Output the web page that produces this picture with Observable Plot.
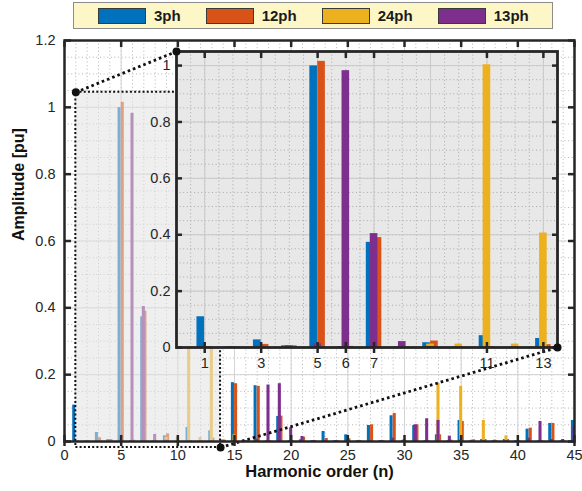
<!DOCTYPE html>
<html>
<head>
<meta charset="utf-8">
<script src="https://cdn.jsdelivr.net/npm/d3@7"></script>
<script src="https://cdn.jsdelivr.net/npm/@observablehq/plot@0.6"></script>
<style>
html, body { margin: 0; padding: 0; background: #fff; }
#wrap { position: relative; width: 582px; height: 491px; overflow: hidden; font-family: "Liberation Sans", Arial, Helvetica, sans-serif; }
#legend { position: absolute; left: 73px; top: 2px; width: 480px; height: 27px; box-sizing: border-box;
  background: #fdf7c8; border: 1px solid #8c8c8c; display: flex; align-items: center; padding-left: 24px; gap: 25px; }
.item { display: flex; align-items: center; }
.sw { width: 48px; height: 16px; box-sizing: border-box; border: 1px solid #3a3a3a; }
.lab { margin-left: 8px; font-weight: bold; font-size: 15px; color: #1a1a1a; }
</style>
</head>
<body>
<div id="wrap"><div id="legend"></div></div>
<script>
// ---------------- data ----------------
const harmonicOrder = [1,2,3,4,5,6,7,8,9,10,11,12,13,14,15,16,17,18,19,20,21,22,23,24,25,26,27,28,29,30,31,32,33,34,35,36,37,38,39,40,41,42,43,44,45];
const amp3ph  = [0.109,0.002,0.027,0.006,0.999,0.003,0.373,0.002,0.017,0.001,0.042,0.001,0.032,
                 0.002,0.176,0.002,0.167,0.002,0.075,0.002,0.005,0.002,0.030,0.002,0.020,0.002,0.048,0.002,0.077,0.002,
                 0.048,0.002,0.020,0.002,0.063,0.002,0.006,0.002,0.006,0.002,0.037,0.002,0.054,0.002,0.063];
const amp12ph = [0.003,0.002,0.011,0.006,1.015,0.004,0.390,0.002,0.023,0.001,0.003,0.001,0.010,
                 0.004,0.173,0.002,0.165,0.002,0.076,0.002,0.013,0.002,0.009,0.002,0.008,0.002,0.050,0.002,0.084,0.002,
                 0.050,0.002,0.020,0.004,0.060,0.005,0.006,0.002,0.006,0.002,0.040,0.002,0.054,0.002,0.002];
const amp24ph = [0,0,0,0,0,0,0,0,0.012,0.012,1.003,0.012,0.406,
                 0.006,0.020,0,0,0,0,0,0,0,0,0,0,0,0,0,0,0,
                 0,0,0.174,0,0.165,0.005,0.063,0.005,0.017,0,0,0,0,0,0];
const amp13ph = [0.001,0.002,0.002,0.006,0.013,0.982,0.404,0.021,0.004,0.001,0.001,0.001,0.001,
                 0.002,0.002,0.002,0.007,0.169,0.173,0.041,0.015,0.002,0.002,0.002,0.002,0.002,0.002,0.002,0.010,0.005,
                 0.050,0.068,0.063,0.016,0.004,0.002,0.002,0.002,0.002,0.002,0.010,0.060,0.006,0.006,0.045];
const seriesNames  = ["3ph", "12ph", "24ph", "13ph"];
const seriesColors = ["#0072BD", "#D95319", "#EDB120", "#7E2F8E"];
const mainXTicks  = [0,5,10,15,20,25,30,35,40,45];
const mainYTicks  = [0,0.2,0.4,0.6,0.8,1,1.2];
const insetXTicks = [1,3,5,6,7,11,13];
const insetYTicks = [0,0.2,0.4,0.6,0.8,1];
const zoomBoxX = [1, 13.77];
const zoomBoxY = [-0.018, 1.045];

// ---------------- layout ----------------
const FONT = '"Liberation Sans", Arial, Helvetica, sans-serif';
const INK = "#262626";
const M = {w: 582, h: 461, top: 10, right: 8, bottom: 50, left: 64, pageTop: 30};
const I = {w: 440, h: 340, top: 10, right: 19, bottom: 34, left: 40, pageLeft: 136, pageTop: 41};
const mainXDomain = [0, 45], mainYDomain = [0, 1.2];
const insetXDomain = [0, 13.5], insetYDomain = [0, 1.05];

const barOffset = {"3ph": -0.14, "12ph": 0.14, "24ph": 0, "13ph": 0};
const barWidth = 0.27;
const seriesValues = [amp3ph, amp12ph, amp24ph, amp13ph];
const bars = seriesNames.flatMap((s, i) => harmonicOrder.map((n, j) => ({n, series: s, v: seriesValues[i][j]})));
const insetBars = bars.filter(d => d.n <= 14);
const bx1 = d => d.n + barOffset[d.series] - barWidth / 2;
const bx2 = d => d.n + barOffset[d.series] + barWidth / 2;
const fmt = d => String(+d.toFixed(1));

// legend
const leg = document.getElementById("legend");
seriesNames.forEach((s, i) => {
  const it = document.createElement("div"); it.className = "item";
  const sw = document.createElement("div"); sw.className = "sw"; sw.style.background = seriesColors[i];
  const lb = document.createElement("span"); lb.className = "lab"; lb.textContent = s;
  it.appendChild(sw); it.appendChild(lb); leg.appendChild(it);
});

// main scales mirrored to map inset frame corners into main data coordinates
const xm = d3.scaleLinear(mainXDomain, [M.left, M.w - M.right]);
const ym = d3.scaleLinear(mainYDomain, [M.h - M.bottom, M.top]);
const insetFrame = {
  left: I.pageLeft + I.left, right: I.pageLeft + I.w - I.right,
  top: I.pageTop + I.top, bottom: I.pageTop + I.h - I.bottom
};
const connectors = [
  {x1: zoomBoxX[0], y1: zoomBoxY[1], x2: xm.invert(insetFrame.left), y2: ym.invert(insetFrame.top - M.pageTop)},
  {x1: zoomBoxX[1], y1: zoomBoxY[0], x2: xm.invert(insetFrame.right), y2: ym.invert(insetFrame.bottom - M.pageTop)}
];
const zoomRegion = [{x1: zoomBoxX[0], x2: zoomBoxX[1], y1: zoomBoxY[0], y2: zoomBoxY[1]}];
const zoomCorners = [{x: zoomBoxX[0], y: zoomBoxY[1]}, {x: zoomBoxX[1], y: zoomBoxY[0]}];

const tickOpts = {strokeWidth: 2.5, tickFormat: () => "", label: null, color: INK};

const main = Plot.plot({
  width: M.w, height: M.h, marginTop: M.top, marginRight: M.right, marginBottom: M.bottom, marginLeft: M.left,
  x: {domain: mainXDomain}, y: {domain: mainYDomain},
  color: {domain: seriesNames, range: seriesColors},
  style: {fontFamily: FONT, fontSize: "14.5px", background: "transparent", color: INK, overflow: "visible"},
  marks: [
    Plot.ruleX(d3.range(0, 45.01, 1), {stroke: "#b5b5b5", strokeDasharray: "1,2.6"}),
    Plot.ruleY(d3.range(0, 1.2001, 0.05), {stroke: "#b5b5b5", strokeDasharray: "1,2.6"}),
    Plot.ruleX(mainXTicks, {stroke: "#d4d4d4"}),
    Plot.ruleY(mainYTicks, {stroke: "#d4d4d4"}),
    Plot.rect(bars, {x1: bx1, x2: bx2, y1: () => 0, y2: "v", fill: "series", clip: true}),
    Plot.rect(zoomRegion, {x1: "x1", x2: "x2", y1: () => 0, y2: "y2", fill: "#e2e2e2", fillOpacity: 0.55}),
    Plot.rect(zoomRegion, {x1: "x1", x2: "x2", y1: "y1", y2: "y2", fill: "none", stroke: "#111", strokeWidth: 2, strokeDasharray: "2,2.2"}),
    Plot.link(connectors, {x1: "x1", y1: "y1", x2: "x2", y2: "y2", stroke: "#111", strokeWidth: 2.8, strokeDasharray: "2.6,3"}),
    Plot.frame({stroke: INK, strokeWidth: 2.5}),
    Plot.dot(zoomCorners, {x: "x", y: "y", r: 4, fill: "#111"}),
    Plot.axisX(mainXTicks, {anchor: "bottom", tickSize: 0, tickPadding: 8, label: null, tickFormat: d => String(d), color: INK}),
    Plot.axisX(mainXTicks, {anchor: "bottom", tickSize: -6, ...tickOpts}),
    Plot.axisX(mainXTicks, {anchor: "bottom", tickSize: 5, ...tickOpts}),
    Plot.axisX(mainXTicks, {anchor: "top", tickSize: -6, ...tickOpts}),
    Plot.axisY(mainYTicks, {anchor: "left", tickSize: 0, tickPadding: 9, label: null, tickFormat: fmt, color: INK}),
    Plot.axisY(mainYTicks, {anchor: "left", tickSize: -7, ...tickOpts}),
    Plot.axisY(mainYTicks, {anchor: "right", tickSize: -7, ...tickOpts}),
    Plot.text(["Harmonic order (n)"], {text: d => d, frameAnchor: "bottom", dy: 35, fontWeight: "bold", fontSize: 16.5, fill: "#111"}),
    Plot.text(["Amplitude [pu]"], {text: d => d, frameAnchor: "left", dx: -46, rotate: -90, fontWeight: "bold", fontSize: 16, fill: "#111"})
  ]
});
main.style.position = "absolute"; main.style.left = "0px"; main.style.top = M.pageTop + "px";
document.getElementById("wrap").appendChild(main);

const insetCorners = [{x: insetXDomain[0], y: insetYDomain[1]}, {x: insetXDomain[1], y: insetYDomain[0]}];
const inset = Plot.plot({
  width: I.w, height: I.h, marginTop: I.top, marginRight: I.right, marginBottom: I.bottom, marginLeft: I.left,
  x: {domain: insetXDomain}, y: {domain: insetYDomain},
  color: {domain: seriesNames, range: seriesColors},
  style: {fontFamily: FONT, fontSize: "14.5px", background: "transparent", color: INK, overflow: "visible"},
  marks: [
    Plot.frame({fill: "#e8e8e8", stroke: "none"}),
    Plot.ruleX(d3.range(0, 13.51, 0.5), {stroke: "#a9a9a9", strokeDasharray: "1,2.6"}),
    Plot.ruleY(d3.range(0, 1.0501, 0.05), {stroke: "#a9a9a9", strokeDasharray: "1,2.6"}),
    Plot.ruleX(d3.range(1, 14, 2), {stroke: "#cacaca"}),
    Plot.ruleY(insetYTicks, {stroke: "#cacaca"}),
    Plot.rect(insetBars, {x1: bx1, x2: bx2, y1: () => 0, y2: "v", fill: "series", clip: true}),
    Plot.frame({stroke: INK, strokeWidth: 2.8}),
    Plot.axisX(insetXTicks, {anchor: "bottom", tickSize: 0, tickPadding: 10, label: null, tickFormat: d => String(d), color: INK}),
    Plot.axisX(insetXTicks, {anchor: "bottom", tickSize: 6, ...tickOpts}),
    Plot.axisX(insetXTicks, {anchor: "bottom", tickSize: -5, ...tickOpts}),
    Plot.axisX(insetXTicks, {anchor: "top", tickSize: -6, ...tickOpts}),
    Plot.axisY(insetYTicks, {anchor: "left", tickSize: 0, tickPadding: 6, label: null, tickFormat: fmt, color: INK}),
    Plot.axisY(insetYTicks, {anchor: "left", tickSize: -6, ...tickOpts}),
    Plot.axisY(insetYTicks, {anchor: "right", tickSize: -6, ...tickOpts}),
    Plot.dot(insetCorners, {x: "x", y: "y", r: 4, fill: "#111", clip: false})
  ]
});
inset.style.position = "absolute"; inset.style.left = I.pageLeft + "px"; inset.style.top = I.pageTop + "px";
document.getElementById("wrap").appendChild(inset);
</script>
</body>
</html>
